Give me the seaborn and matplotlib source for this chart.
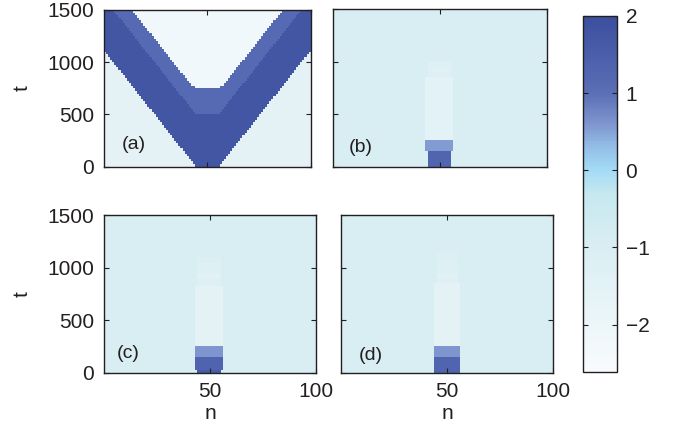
import numpy as np
import matplotlib
matplotlib.use("Agg")
import matplotlib.pyplot as plt
import seaborn as sns
from matplotlib.colors import LinearSegmentedColormap

# Grid of the simulation: sites n and time rows of 25 steps
N_SITES = 100
T_MAX = 1500
T_STEP = 25
CENTER = 50

# Colour scale
VMIN, VMAX = -2.61, 2.0
CBAR_VALUES = [-2.61, -2.0, -1.0, -0.3, 0.0, 0.3, 0.6, 1.0, 1.5, 2.0]
CBAR_COLORS = ['#f8fbfd', '#ecf6f9', '#d9eef3', '#c6e8ef', '#a4dcf5',
               '#93bfe7', '#7f96cf', '#5b6fb6', '#4a5eab', '#3b4f9e']
CBAR_TICKS = [-2, -1, 0, 1, 2]

X_TICKS = [50, 100]
Y_TICKS = [0, 500, 1000, 1500]

# Panel (a): half widths (distance from n = 50) of each zone, one value per time row
A_OUTER = [6, 7, 8, 9, 10, 11, 12, 13, 14, 15, 16, 17, 18, 19, 20,
           21, 22, 23, 24, 25, 26, 27, 28, 29, 30, 31, 32, 33, 34, 35,
           36, 37, 38, 39, 40, 41, 42, 43, 44, 45, 46, 47, 48, 49, 50,
           51, 52, 53, 54, 55, 56, 57, 58, 59, 60, 61, 62, 63, 64, 65]
A_MID = [0, 0, 0, 0, 0, 0, 0, 0, 0, 0, 0, 0, 0, 0, 0,
         0, 0, 0, 0, 0, 6, 7, 8, 9, 10, 11, 12, 13, 14, 15,
         16, 17, 18, 19, 20, 21, 22, 23, 24, 25, 26, 27, 28, 29, 30,
         31, 32, 33, 34, 35, 36, 37, 38, 39, 40, 41, 42, 43, 44, 45]
A_INNER = [0, 0, 0, 0, 0, 0, 0, 0, 0, 0, 0, 0, 0, 0, 0,
           0, 0, 0, 0, 0, 0, 0, 0, 0, 0, 0, 0, 0, 0, 0,
           6, 8, 9, 10, 11, 12, 13, 14, 15, 16, 17, 18, 19, 20, 21,
           22, 23, 24, 25, 26, 27, 28, 29, 30, 31, 32, 33, 34, 35, 36]
A_OUTSIDE, A_BAND, A_SHOULDER, A_INSIDE = -1.55, 1.75, 1.15, -2.25

# Panels (b)-(d): zones of the central column, listed from t = 0 upward
BACKGROUND = -0.95
B_TOP = [150, 250, 850, 900, 950, 1000]
B_VAL = [1.3, 0.55, -1.5, -1.25, -1.35, -1.2]
B_LEFT = [44, 43, 43, 44, 44, 44]
B_RIGHT = [55, 56, 56, 55, 55, 55]

C_TOP = [25, 150, 260, 835, 900, 950, 1000, 1050, 1100]
C_VAL = [1.6, 1.35, 0.6, -1.55, -1.3, -1.4, -1.2, -1.3, -1.15]
C_LEFT = [44, 43, 43, 43, 44, 44, 44, 44, 44]
C_RIGHT = [55, 56, 56, 56, 55, 55, 55, 55, 55]

D_TOP = [150, 250, 855, 900, 950, 1000, 1050, 1100, 1150]
D_VAL = [1.3, 0.6, -1.55, -1.3, -1.4, -1.2, -1.3, -1.15, -1.1]
D_LEFT = [44, 44, 44, 45, 45, 45, 45, 45, 45]
D_RIGHT = [56, 56, 56, 55, 55, 55, 55, 55, 55]

LABELS = ['(a)', '(b)', '(c)', '(d)']
LABEL_POS = [(14.4, 217), (13, 183), (11.2, 178), (13.9, 168)]

TEXT = '#231f20'

sns.set_style('white')
plt.rcParams['font.family'] = ['Liberation Sans', 'DejaVu Sans']
plt.rcParams['text.color'] = TEXT
plt.rcParams['axes.labelcolor'] = TEXT
plt.rcParams['xtick.color'] = TEXT
plt.rcParams['ytick.color'] = TEXT
plt.rcParams['axes.axisbelow'] = False

rows = T_MAX // T_STEP
n = np.arange(N_SITES) + 0.5
t = (np.arange(rows) + 0.5) * T_STEP
dist = np.abs(n - CENTER)


def field_a():
    f = np.full((rows, N_SITES), A_OUTSIDE)
    for i in range(rows):
        f[i, dist < A_OUTER[i]] = A_BAND
        f[i, dist < A_MID[i]] = A_SHOULDER
        f[i, dist < A_INNER[i]] = A_INSIDE
    return f


def field_column(tops, vals, left, right):
    f = np.full((rows, N_SITES), BACKGROUND)
    lo = 0
    for top, v, l, r in zip(tops, vals, left, right):
        rsel = (t > lo) & (t < top)
        csel = (n > l) & (n < r)
        f[np.ix_(rsel, csel)] = v
        lo = top
    return f


fields = [field_a(),
          field_column(B_TOP, B_VAL, B_LEFT, B_RIGHT),
          field_column(C_TOP, C_VAL, C_LEFT, C_RIGHT),
          field_column(D_TOP, D_VAL, D_LEFT, D_RIGHT)]

pos = (np.array(CBAR_VALUES) - VMIN) / (VMAX - VMIN)
cmap = LinearSegmentedColormap.from_list('wave', list(zip(pos, CBAR_COLORS)))

fig = plt.figure(figsize=(6.73, 4.38), dpi=100)
rects = [[0.1545, 0.6194, 0.3071, 0.3578],
         [0.4953, 0.6194, 0.318, 0.3594],
         [0.1545, 0.1491, 0.315, 0.36],
         [0.5067, 0.1491, 0.3155, 0.36]]
axes = [fig.add_axes(r) for r in rects]
cax = fig.add_axes([0.8658, 0.1514, 0.0514, 0.8121])

for k, (ax, f) in enumerate(zip(axes, fields)):
    sns.heatmap(f, ax=ax, cmap=cmap, vmin=VMIN, vmax=VMAX,
                cbar=(k == 0), cbar_ax=cax if k == 0 else None,
                xticklabels=False, yticklabels=False)
    ax.invert_yaxis()
    ax.set_axisbelow(False)
    for s in ax.spines.values():
        s.set_visible(True)
        s.set_linewidth(1.0)
        s.set_color(TEXT)
    ax.set_xticks(X_TICKS)
    ax.set_yticks(np.array(Y_TICKS) / T_STEP)
    ax.tick_params(direction='in', bottom=True, left=True, top=True, right=True,
                   length=3.5, width=0.8, labelsize=15, pad=7)
    if k >= 2:
        ax.set_xticklabels([str(v) for v in X_TICKS])
        ax.set_xlabel('n', fontsize=15, labelpad=2)
    else:
        ax.set_xticklabels([])
    if k % 2 == 0:
        ax.set_yticklabels([str(v) for v in Y_TICKS])
        ax.set_ylabel('t', fontsize=15, labelpad=11)
    else:
        ax.set_yticklabels([])
    lx, ly = LABEL_POS[k]
    ax.text(lx, ly / T_STEP, LABELS[k], fontsize=14, ha='center', va='center')

cbar = axes[0].collections[0].colorbar
cbar.set_ticks(CBAR_TICKS)
cbar.outline.set_visible(True)
cbar.outline.set_linewidth(1.0)
cbar.outline.set_edgecolor(TEXT)
cax.set_axisbelow(False)
cax.tick_params(direction='in', left=True, right=True, length=3.5,
                width=0.8, labelsize=15, pad=6)

fig.savefig('out.png', dpi=100)
